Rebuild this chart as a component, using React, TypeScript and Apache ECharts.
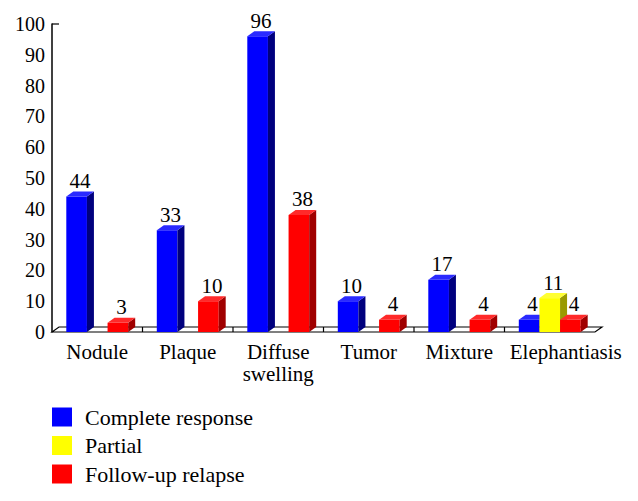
import React, { useEffect, useRef } from "react";
import * as echarts from "echarts";

const categories = ["Nodule", "Plaque", "Diffuse\nswelling", "Tumor", "Mixture", "Elephantiasis"];
const completeResponse = [44, 33, 96, 10, 17, 4];
const partial = [0, 0, 0, 0, 0, 11];
const followUpRelapse = [3, 10, 38, 4, 4, 4];
const seriesNames = ["Complete response", "Partial", "Follow-up relapse"];
const yTicks = { min: 0, max: 100, interval: 10 };

const FONT = "'Liberation Serif', 'Times New Roman', serif";
const DX = 7;
const DY = -5;

const palettes = [
  { front: "#0000FF", top: "#2A2AFF", side: "#00007E" },
  { front: "#FFFF00", top: "#FFFF33", side: "#9A9A00" },
  { front: "#FF0000", top: "#FF2A2A", side: "#A00000" },
];

function makeBarRender(idx: number) {
  const pal = palettes[idx];
  return (params: any, api: any) => {
    const cat = api.value(0);
    const v = api.value(1);
    if (!v) return null;
    const band = api.size([1, 0])[0];
    const bw = band * 0.228;
    const base = api.coord([cat, 0]);
    const topP = api.coord([cat, v]);
    const cx = base[0];
    const y0 = base[1];
    const y1 = topP[1];
    const x0 = cx + (idx - 1) * bw - bw / 2;
    const x1 = x0 + bw;
    return {
      type: "group",
      children: [
        {
          type: "rect",
          shape: { x: x0, y: y1, width: bw, height: y0 - y1 },
          style: { fill: pal.front },
        },
        {
          type: "polygon",
          shape: { points: [[x1, y1], [x1 + DX, y1 + DY], [x1 + DX, y0 + DY], [x1, y0]] },
          style: { fill: pal.side },
        },
        {
          type: "polygon",
          shape: { points: [[x0, y1], [x0 + DX, y1 + DY], [x1 + DX, y1 + DY], [x1, y1]] },
          style: { fill: pal.top },
        },
        {
          type: "text",
          x: x0 + bw / 2 + DX / 2,
          y: y1 + DY,
          style: {
            text: String(v),
            align: "center",
            verticalAlign: "bottom",
            fontFamily: FONT,
            fontSize: 21,
            fill: "#000",
          },
        },
      ],
    };
  };
}

function floorRender(params: any, api: any) {
  const cs = params.coordSys;
  const gx = cs.x;
  const gw = cs.width;
  const gy = cs.y;
  const y0 = api.coord([0, 0])[1];
  const band = api.size([1, 0])[0];
  const lineStyle = { stroke: "#000", lineWidth: 1.2, fill: "none" };
  const children: any[] = [
    { type: "polygon", shape: { points: [[gx, y0], [gx + DX, y0 + DY], [gx + gw + DX, y0 + DY], [gx + gw, y0]] }, style: { ...lineStyle, fill: "#fff" } },
    { type: "line", shape: { x1: gx, y1: gy, x2: gx + DX, y2: gy }, style: lineStyle },
  ];
  for (let i = 1; i < categories.length; i++) {
    const xb = api.coord([i, 0])[0] - band / 2;
    children.push({ type: "line", shape: { x1: xb, y1: y0, x2: xb, y2: y0 + DY }, style: lineStyle });
  }
  return { type: "group", children };
}

export default function App() {
  const ref = useRef<HTMLDivElement>(null);
  useEffect(() => {
    if (!ref.current) return;
    const chart = echarts.init(ref.current, null, { renderer: "svg" });
    const seriesData = [completeResponse, partial, followUpRelapse];
    const catData = categories.map((c, i) =>
      i === categories.length - 1 ? { value: c, textStyle: { padding: [0, 0, 0, 32] } } : c
    );
    chart.setOption({
      animation: false,
      backgroundColor: "#fff",
      grid: { left: 52, right: 43, top: 24, bottom: 169, containLabel: false },
      legend: {
        data: seriesNames,
        orient: "vertical",
        left: 52,
        top: 406,
        height: 95,
        padding: 0,
        icon: "rect",
        itemWidth: 20,
        itemHeight: 19,
        itemGap: 6.5,
        textStyle: { fontFamily: FONT, fontSize: 22, color: "#000", padding: [0, 0, 0, 8] },
      },
      xAxis: {
        type: "category",
        data: catData,
        axisLine: { show: false },
        axisTick: { show: false },
        axisLabel: { fontFamily: FONT, fontSize: 21, color: "#000", margin: 9, lineHeight: 22, interval: 0 },
      },
      yAxis: {
        type: "value",
        min: yTicks.min,
        max: yTicks.max,
        interval: yTicks.interval,
        splitLine: { show: false },
        axisTick: { show: false },
        axisLine: { show: true, lineStyle: { color: "#000", width: 1.5 } },
        axisLabel: { fontFamily: FONT, fontSize: 20, color: "#000", margin: 7 },
      },
      series: [
        {
          type: "custom",
          name: "floor",
          renderItem: floorRender,
          data: [[0, 0]],
          silent: true,
          z: 1,
        },
        ...seriesData.map((arr, idx) => ({
          type: "custom",
          name: seriesNames[idx],
          itemStyle: { color: palettes[idx].front },
          renderItem: makeBarRender(idx),
          data: arr.map((v, i) => [i, v]),
          z: 2 + idx,
        })),
      ],
    });
    return () => chart.dispose();
  }, []);
  return (
    <div
      ref={ref}
      style={{ position: "fixed", left: 0, top: 0, width: 638, height: 501 }}
    />
  );
}
